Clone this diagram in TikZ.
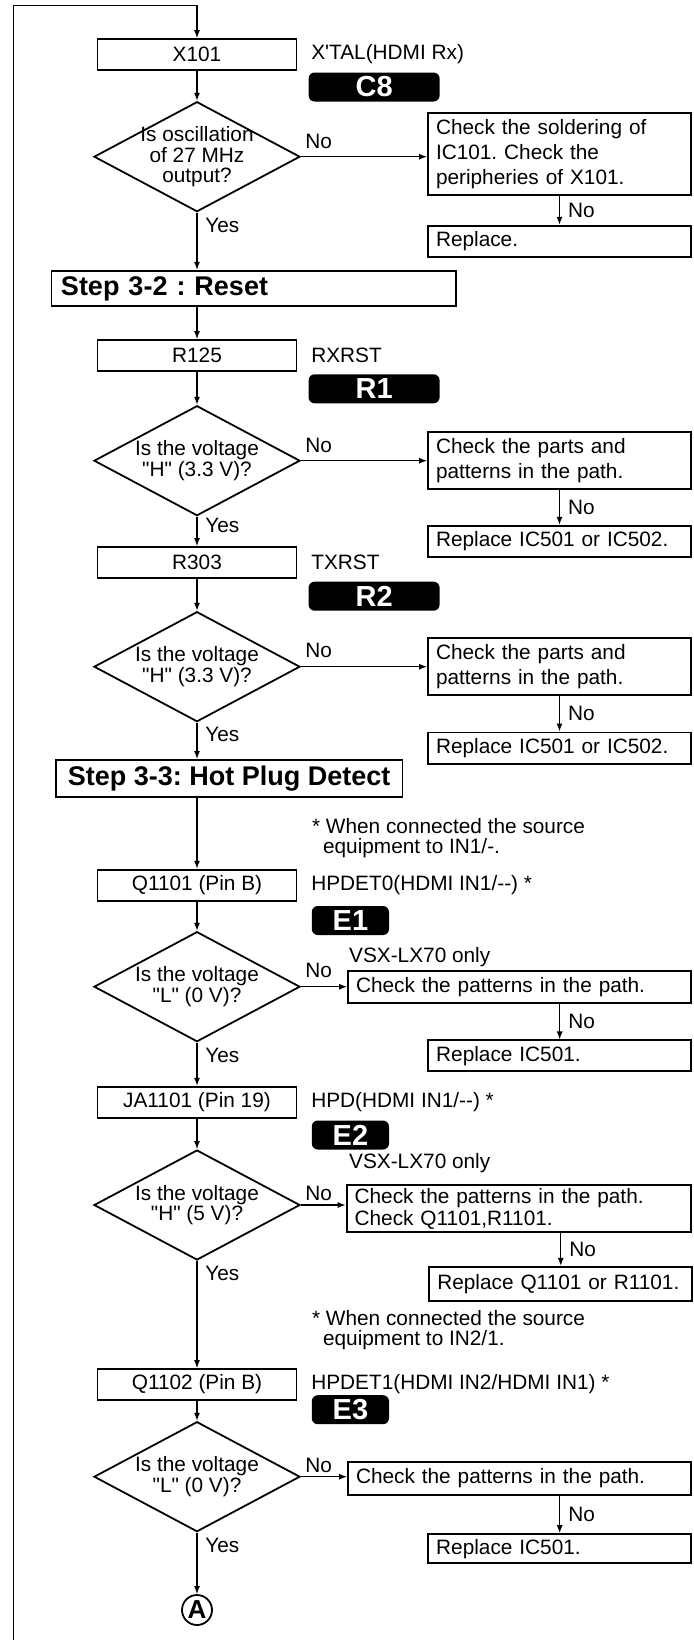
\documentclass[tikz,border=0pt]{standalone}
\usepackage{fontspec}
\setmainfont{Liberation Sans}[Ligatures=TeXOff]
\usetikzlibrary{arrows.meta,positioning,shapes.geometric}
\frenchspacing

\begin{document}
\begin{tikzpicture}[x=0.5pt, y=-0.5pt, >={Latex[length=4pt,width=3pt]}, every node/.style={font=\fontsize{10.4}{12.5}\selectfont}]
\tikzset{part/.style={draw, line width=0.9pt, minimum width=99.5pt, minimum height=15.5pt, inner sep=0pt}}
\tikzset{ask/.style={draw, diamond, line width=0.9pt, minimum width=103pt, minimum height=55pt, inner sep=0pt, label={[align=center, font=\fontsize{10.4}{10.4}\selectfont]center:{#1}}}}
\tikzset{chk/.style={draw, line width=0.9pt, align=left, inner xsep=4pt, inner ysep=0pt}}
\tikzset{tag/.style={fill=black, rounded corners=3pt, text=white, minimum height=14.5pt, inner sep=0pt, font=\fontsize{14.5}{15}\selectfont\bfseries}}
\tikzset{stepbox/.style={draw, line width=0.9pt, inner sep=0pt, font=\fontsize{13.5}{15}\selectfont\bfseries}}
\tikzset{lbl/.style={inner sep=0pt, anchor=west}}
\tikzset{wire/.style={line width=0.6pt}}
\useasboundingbox (0,0) rectangle (694,1640);
\coordinate (loopbot) at (13.4,1640);
\coordinate (looptop) at (13.4,5.3);

\node[part] (x101) at (197,54.5) {X101};
\node[lbl, right=6.75pt of x101] (x101t) {X'TAL(HDMI Rx)};
\node[tag, minimum width=65.5pt] (c8) at (374.1,87) {C8};
\node[ask={Is oscillation\\of 27 MHz\\output?}] (q1) at (197,156.7) {};
\node[chk, text width=123.5pt, minimum height=41pt] (chk1) at (559.5,154) {Check the soldering of\\IC101. Check the\\peripheries of X101.};
\node[chk, text width=123.5pt, minimum height=15.5pt] (rep1) at (559.5,241.2) {Replace.};
\node[lbl] (no1) at (305,141) {No};
\node[lbl] (yes1) at (205,225) {Yes};

\node[stepbox, minimum width=202.3pt, minimum height=17.65pt, text width=192.7pt, inner xsep=4.8pt, align=left] (step2) at (253.7,288.4) {Step 3-2 : Reset};

\node[part] (r125) at (197,355.5) {R125};
\node[lbl, right=6.75pt of r125] (r125t) {RXRST};
\node[tag, minimum width=65.5pt] (r1) at (374.1,388.8) {R1};
\node[ask={Is the voltage\\"H" (3.3 V)?}] (q2) at (197,460.7) {};
\node[chk, text width=123.5pt, minimum height=28.35pt] (chk2) at (559.5,460.7) {Check the parts and\\patterns in the path.};
\node[chk, text width=123.5pt, minimum height=15.8pt] (rep2) at (559.5,541.5) {Replace IC501 or IC502.};
\node[lbl] (no2) at (305,445) {No};
\node[lbl] (yes2) at (205,525) {Yes};

\node[part] (r303) at (197,562.5) {R303};
\node[lbl, right=6.75pt of r303] (r303t) {TXRST};
\node[tag, minimum width=65.5pt] (r2) at (374.1,596.2) {R2};
\node[ask={Is the voltage\\"H" (3.3 V)?}] (q3) at (197,666.7) {};
\node[chk, text width=123.5pt, minimum height=28.35pt] (chk3) at (559.5,666.7) {Check the parts and\\patterns in the path.};
\node[chk, text width=123.5pt, minimum height=15.8pt] (rep3) at (559.5,748.2) {Replace IC501 or IC502.};
\node[lbl] (no3) at (305,650.7) {No};
\node[lbl] (yes3) at (205,734) {Yes};

\node[stepbox, minimum width=173.3pt, minimum height=18.35pt] (step3) at (229.2,778.3) {Step 3-3: Hot Plug Detect};
\node[lbl, align=left, font=\fontsize{10.4}{10.3}\selectfont] (note1) at (311.7,838) {* When connected the source\\\hspace*{5.5pt}equipment to IN1/-.};

\node[part] (q1101) at (197,885.2) {Q1101 (Pin B)};
\node[lbl, right=6.75pt of q1101] (q1101t) {HPDET0(HDMI IN1/--) *};
\node[tag, minimum width=38.6pt] (e1) at (350.4,920.5) {E1};
\node[ask={Is the voltage\\"L" (0 V)?}] (q4) at (197,986.7) {};
\node[lbl] (vsx1) at (348.8,957.3) {VSX-LX70 only};
\node[chk, text width=163.5pt, minimum height=15.7pt] (chk4) at (519.5,987) {Check the patterns in the path.};
\node[chk, text width=123.5pt, minimum height=15.35pt] (rep4) at (559.7,1055.7) {Replace IC501.};
\node[lbl] (no4) at (305,970.7) {No};
\node[lbl] (yes4) at (205,1055) {Yes};

\node[part] (ja1101) at (197,1102.2) {JA1101 (Pin 19)};
\node[lbl, right=6.75pt of ja1101] (ja1101t) {HPD(HDMI IN1/--) *};
\node[tag, minimum width=38.6pt] (e2) at (350.4,1135) {E2};
\node[ask={Is the voltage\\"H" (5 V)?}] (q5) at (197,1205) {};
\node[lbl] (vsx2) at (348.8,1163.3) {VSX-LX70 only};
\node[chk, text width=164.2pt, minimum height=22pt, inner ysep=1.5pt, font=\fontsize{10.4}{11}\selectfont] (chk5) at (518.8,1208.7) {Check the patterns in the path.\\Check Q1101,R1101.};
\node[chk, text width=123.5pt, minimum height=17pt] (rep5) at (560.8,1283.7) {Replace Q1101 or R1101.};
\node[lbl] (no5) at (305,1193) {No};
\node[lbl] (yes5) at (205,1273) {Yes};
\node[lbl, align=left, font=\fontsize{10.4}{10.3}\selectfont] (note2) at (311.7,1330) {* When connected the source\\\hspace*{5.5pt}equipment to IN2/1.};

\node[part] (q1102) at (197,1384.5) {Q1102 (Pin B)};
\node[lbl, right=6.75pt of q1102] (q1102t) {HPDET1(HDMI IN2/HDMI IN1) *};
\node[tag, minimum width=38.6pt] (e3) at (350.4,1409.7) {E3};
\node[ask={Is the voltage\\"L" (0 V)?}] (q6) at (197,1476.7) {};
\node[chk, text width=163.5pt, minimum height=16.65pt] (chk6) at (519.5,1478.3) {Check the patterns in the path.};
\node[chk, text width=123.5pt, minimum height=14.65pt] (rep6) at (559.7,1548.7) {Replace IC501.};
\node[lbl] (no6) at (305,1465) {No};
\node[lbl] (yes6) at (205,1545) {Yes};
\node[draw, circle, line width=0.9pt, minimum size=15pt, inner sep=0pt, font=\fontsize{13}{13}\selectfont\bfseries] (ca) at (197,1610) {A};

\draw[wire,->] (loopbot) -- (looptop) -| (x101.north);
\draw[wire,->] (x101) -- (q1);
\draw[wire,->] (q1.east) -- (q1.east -| chk1.west);
\draw[wire,->] (chk1) -- node[lbl, xshift=4pt] {No} (rep1);
\draw[wire,->] (q1.south) -- (q1.south |- step2.north);
\draw[wire,->] (r125.north |- step2.south) -- (r125);
\draw[wire,->] (r125) -- (q2);
\draw[wire,->] (q2.east) -- (q2.east -| chk2.west);
\draw[wire,->] (chk2) -- node[lbl, xshift=4pt] {No} (rep2);
\draw[wire,->] (q2) -- (r303);
\draw[wire,->] (r303) -- (q3);
\draw[wire,->] (q3.east) -- (q3.east -| chk3.west);
\draw[wire,->] (chk3) -- node[lbl, xshift=4pt] {No} (rep3);
\draw[wire,->] (q3.south) -- (q3.south |- step3.north);
\draw[wire,->] (q1101.north |- step3.south) -- (q1101);
\draw[wire,->] (q1101) -- (q4);
\draw[wire,->] (q4.east) -- (q4.east -| chk4.west);
\draw[wire,->] (chk4.south -| rep4.north) -- node[lbl, xshift=4pt] {No} (rep4);
\draw[wire,->] (q4) -- (ja1101);
\draw[wire,->] (ja1101) -- (q5);
\draw[wire,->] (q5.east) -- (q5.east -| chk5.west);
\draw[wire,->] (chk5.south -| rep5.north) -- node[lbl, xshift=4pt] {No} (rep5);
\draw[wire,->] (q5) -- (q1102);
\draw[wire,->] (q1102) -- (q6);
\draw[wire,->] (q6.east) -- (q6.east -| chk6.west);
\draw[wire,->] (chk6.south -| rep6.north) -- node[lbl, xshift=4pt] {No} (rep6);
\draw[wire,->] (q6) -- (ca);
\end{tikzpicture}
\end{document}
